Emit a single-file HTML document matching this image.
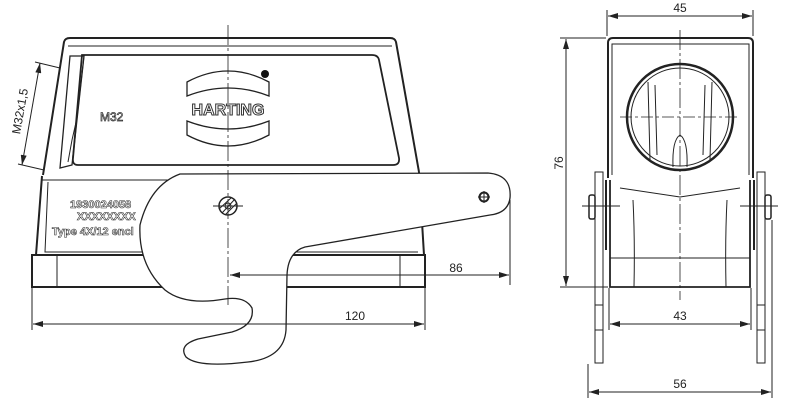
<!DOCTYPE html>
<html><head><meta charset="utf-8"><style>
html,body{margin:0;padding:0;background:#fff;width:800px;height:412px;overflow:hidden}
svg{display:block}
text{font-family:"Liberation Sans",sans-serif;fill:#222}
.d{stroke:none;fill:#222}
.o{fill:#fff;stroke:#333;stroke-width:0.6;font-weight:bold}
</style></head><body>
<svg width="800" height="412" viewBox="0 0 800 412" xmlns="http://www.w3.org/2000/svg" fill="none" stroke="#222" stroke-width="1">
<defs>
<marker id="a" viewBox="0 0 10 6" refX="10" refY="3" markerWidth="10" markerHeight="6" orient="auto-start-reverse" markerUnits="userSpaceOnUse"><path d="M0,0 L10,3 L0,6z" fill="#222" stroke="none"/></marker>
</defs>
<!-- LEFT VIEW -->
<path d="M43,175 L64,42 Q65,38 70,38 L390,38 Q395,38 396,42 L419,172" stroke-width="2"/>
<path d="M68,46 L392,46"/>
<path d="M82,55 L372,55 Q378,55 379,60 L399,158 Q400,165 393,165 L78,165 Q72,165 73,158 Z" stroke-width="1.8"/>
<path d="M70,56 L84,56 L72,165 L60,168 Z" stroke-width="1.3"/>
<path d="M84,56 L77,118 L72,140 L68,162" />
<!-- logo -->
<path d="M187,82 Q228,60 269,82 L269,96 Q228,80 187,96 Z" stroke-width="1.3"/>
<path d="M187,121 Q228,137 269,121 L269,135 Q228,157 187,135 Z" stroke-width="1.3"/>
<text x="228" y="115" font-size="16" text-anchor="middle" class="o" style="stroke-width:1">HARTING</text>
<circle cx="265" cy="74" r="4" fill="#111" stroke="none"/>
<text x="100" y="121" font-size="12" class="o" style="font-weight:normal;stroke-width:0.7">M32</text>
<!-- lower body -->
<path d="M42,176 L36,255 M419,172 L424,255" stroke-width="2"/>
<path d="M42,180 L420,180"/>
<path d="M48,182 L45,252 L418,252"/>
<text x="70" y="208" font-size="11" class="o">1930024058</text>
<text x="77" y="220" font-size="11" class="o">XXXXXXXX</text>
<text x="52" y="235" font-size="11" class="o">Type 4X/12 encl</text>
<rect x="32" y="255" width="393" height="32" stroke-width="2"/>
<path d="M57,255 L57,287 M400,255 L400,287"/>
<!-- lever -->
<path d="M180,174 L488,173 Q512,175 510,198 Q508,213 490,215 L305,247 Q288,252 287,275 L286,330 Q284,358 248,362 Q198,368 186,357 Q178,345 198,339 L232,332 Q255,325 252,308 Q245,296 225,299 Q185,306 165,290 Q138,265 140,225 Q150,185 180,174 Z" fill="#fff" stroke-width="1.3"/>
<circle cx="228" cy="206" r="9" stroke-width="1.5"/>
<circle cx="228" cy="206" r="3"/>
<path d="M222,213 L235,199 M219,209 L231,198 M225,215 L237,203"/>
<path d="M213,206 L243,206"/>
<circle cx="484" cy="197" r="4.5" stroke-width="2"/>
<path d="M478,197 L490,197 M484,191 L484,203"/>
<!-- centerline -->
<path d="M228,25 L228,305" stroke-dasharray="20,3,3,3" stroke-width="0.8"/>
<!-- dims -->
<path d="M510,200 L510,285 M425,288 L425,330 M32,288 L32,330"/>
<path d="M230,275 L509,275" marker-start="url(#a)" marker-end="url(#a)"/>
<text x="456" y="272" font-size="12" text-anchor="middle" class="d">86</text>
<path d="M33,324 L424,324" marker-start="url(#a)" marker-end="url(#a)"/>
<text x="355" y="320" font-size="12" text-anchor="middle" class="d">120</text>
<path d="M60,68 L35,62 M44,170 L18,164"/>
<path d="M40,63 L22,165" marker-start="url(#a)" marker-end="url(#a)"/>
<text x="0" y="0" font-size="12" text-anchor="middle" class="d" transform="translate(24,112) rotate(-80)">M32x1,5</text>
<!-- RIGHT VIEW -->
<path d="M608,178 L608,43 Q608,38 613,38 L748,38 Q753,38 753,43 L753,178" stroke-width="2"/>
<path d="M612,175 L612,44 L749,44 L749,175"/>
<circle cx="680" cy="117" r="53" stroke-width="2.5"/>
<circle cx="680" cy="117" r="49"/>
<path d="M648,82 L650,160 M712,82 L710,160 M655,85 L657,155 M705,85 L703,155"/>
<path d="M673,167 Q672,140 680,135 Q688,140 687,167"/>
<path d="M620,117 L740,117" stroke-dasharray="12,3,3,3" stroke-width="0.8"/>
<path d="M680,30 L680,300" stroke-dasharray="20,3,3,3" stroke-width="0.8"/>
<path d="M610,180 L610,287 L750,287 L750,180" stroke-width="1.8"/>
<path d="M610,258 L750,258 M620,188 L680,197 L740,188 M633,200 Q635,240 634,287 M727,200 Q725,240 726,287"/>
<path d="M606,180 L606,250 M754,180 L754,250" stroke-width="2"/>
<rect x="595" y="172" width="8" height="191"/>
<rect x="757" y="172" width="8" height="191"/>
<path d="M595,305 L603,305 M595,330 L603,330 M757,305 L765,305 M757,330 L765,330"/>
<rect x="589" y="195" width="6" height="24" rx="2" stroke-width="1.5"/>
<rect x="765" y="195" width="6" height="24" rx="2" stroke-width="1.5"/>
<path d="M582,206 L620,206 M740,206 L778,206"/>
<!-- right dims -->
<path d="M607,36 L607,10 M753,36 L753,10"/>
<path d="M608,16 L752,16" marker-start="url(#a)" marker-end="url(#a)"/>
<text x="680" y="12" font-size="12" text-anchor="middle" class="d">45</text>
<path d="M560,38 L606,38 M560,287 L608,287"/>
<path d="M566,39 L566,286" marker-start="url(#a)" marker-end="url(#a)"/>
<text x="0" y="0" font-size="12" text-anchor="middle" class="d" transform="translate(563,163) rotate(-90)">76</text>
<path d="M609,288 L609,330 M751,288 L751,330"/>
<path d="M610,324 L750,324" marker-start="url(#a)" marker-end="url(#a)"/>
<text x="680" y="320" font-size="12" text-anchor="middle" class="d">43</text>
<path d="M588,364 L588,398 M772,220 L772,398"/>
<path d="M589,392 L771,392" marker-start="url(#a)" marker-end="url(#a)"/>
<text x="680" y="388" font-size="12" text-anchor="middle" class="d">56</text>
</svg>
</body></html>
